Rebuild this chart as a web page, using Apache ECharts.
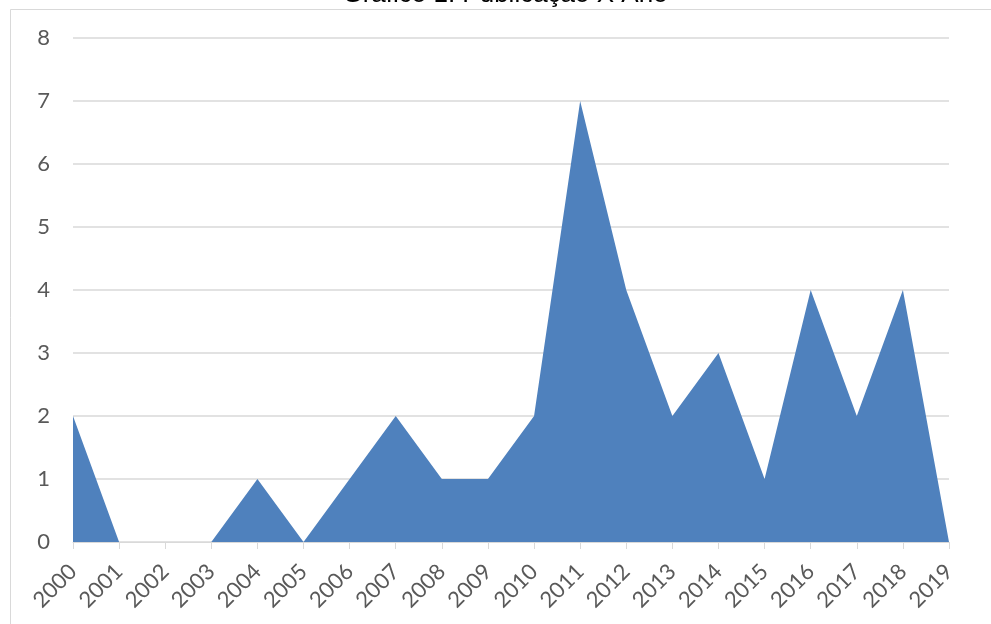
<!DOCTYPE html>
<html>
<head>
<meta charset="utf-8">
<script src="https://cdn.jsdelivr.net/npm/echarts@6/dist/echarts.min.js"></script>
<style>
html,body{margin:0;padding:0;background:#fff;}
#chart{width:991px;height:624px;}
</style>
</head>
<body>
<div id="chart"></div>
<script>
const titleText = 'Gráfico 1: Publicação X Ano';
const years = ['2000','2001','2002','2003','2004','2005','2006','2007','2008','2009','2010','2011','2012','2013','2014','2015','2016','2017','2018','2019'];
const publications = [2,0,0,0,1,0,1,2,1,1,2,7,4,2,3,1,4,2,4,0];
const yTicks = [0,1,2,3,4,5,6,7,8];

const chart = echarts.init(document.getElementById('chart'), null, {renderer:'canvas'});
chart.setOption({
  animation:false,
  backgroundColor:'#ffffff',
  graphic:[
    {type:'rect', shape:{x:10.5,y:9.5,width:1000,height:700}, style:{fill:'none',stroke:'#d9d9d9',lineWidth:1}, z:-1},
    {type:'text', x:505, y:-18, style:{text:titleText, font:'26px "Liberation Sans", Arial, sans-serif', fill:'#000000', align:'center', verticalAlign:'top'}}
  ],
  grid:{left:73,right:42,top:38,bottom:82,containLabel:false},
  xAxis:{
    type:'category',
    data:years,
    boundaryGap:false,
    axisLine:{show:true,lineStyle:{color:'#d9d9d9',width:1}},
    axisTick:{show:true,alignWithLabel:true,length:7,lineStyle:{color:'#d9d9d9'}},
    axisLabel:{rotate:45,margin:26,interval:0,align:'right',verticalAlign:'middle',color:'#595959',fontSize:22,fontFamily:'Lato, "Noto Sans", sans-serif'},
    splitLine:{show:false}
  },
  yAxis:{
    type:'value',
    min:yTicks[0],
    max:yTicks[yTicks.length-1],
    interval:1,
    axisLine:{show:false},
    axisTick:{show:false},
    axisLabel:{margin:23,color:'#595959',fontSize:22,fontFamily:'Lato, "Noto Sans", sans-serif'},
    splitLine:{show:true,lineStyle:{color:'#d9d9d9',width:1.5}}
  },
  series:[{
    type:'line',
    data:publications,
    symbol:'none',
    lineStyle:{width:0,color:'#4f81bd'},
    itemStyle:{color:'#4f81bd'},
    areaStyle:{color:'#4f81bd',opacity:1},
    z:3
  }]
});
</script>
</body>
</html>
